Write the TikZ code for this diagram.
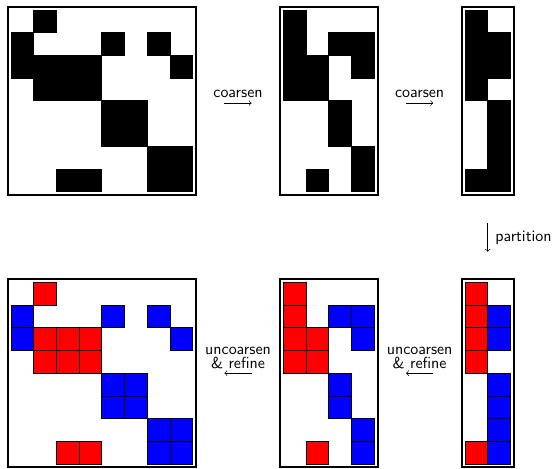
\documentclass[tikz,border=0pt]{standalone}
\begin{document}
\begin{tikzpicture}[x=0.5cm,y=-0.5cm,
  frame/.style={draw, line width=1.2pt},
  blk/.style={fill=black, draw=black, line width=0.4pt},
  redc/.style={fill=red, draw=black, line width=0.4pt},
  bluc/.style={fill=blue, draw=black, line width=0.4pt},
  lbl/.style={font=\sffamily, inner sep=0pt},
  arr/.style={->, line width=0.4pt}]
\useasboundingbox (-0.485,-0.44) rectangle (23.92,20.2);
% ---------- top row (black) ----------
\draw[frame] (-0.15,-0.15) rectangle (8.15,8.15);
\foreach \c/\r in {1/0,0/1,4/1,6/1,0/2,1/2,2/2,3/2,7/2,1/3,2/3,3/3,4/4,5/4,4/5,5/5,6/6,7/6,2/7,3/7,6/7,7/7}
  \draw[blk] (\c,\r) rectangle ++(1,1);
\begin{scope}[shift={(12,0)}]
\draw[frame] (-0.15,-0.15) rectangle (4.15,8.15);
\foreach \c/\r in {0/0,0/1,2/1,3/1,0/2,1/2,3/2,0/3,1/3,2/4,2/5,3/6,1/7,3/7}
  \draw[blk] (\c,\r) rectangle ++(1,1);
\end{scope}
\begin{scope}[shift={(20,0)}]
\draw[frame] (-0.15,-0.15) rectangle (2.15,8.15);
\foreach \c/\r in {0/0,0/1,1/1,0/2,1/2,0/3,1/4,1/5,1/6,0/7,1/7}
  \draw[blk] (\c,\r) rectangle ++(1,1);
\end{scope}
% ---------- bottom row (partitioned) ----------
\begin{scope}[shift={(0,12)}]
\draw[frame] (-0.15,-0.15) rectangle (8.15,8.15);
\foreach \c/\r in {1/0,1/2,2/2,3/2,1/3,2/3,3/3,2/7,3/7}
  \draw[redc] (\c,\r) rectangle ++(1,1);
\foreach \c/\r in {0/1,0/2,4/1,6/1,7/2,4/4,5/4,4/5,5/5,6/6,7/6,6/7,7/7}
  \draw[bluc] (\c,\r) rectangle ++(1,1);
\end{scope}
\begin{scope}[shift={(12,12)}]
\draw[frame] (-0.15,-0.15) rectangle (4.15,8.15);
\foreach \c/\r in {0/0,0/1,0/2,1/2,0/3,1/3,1/7}
  \draw[redc] (\c,\r) rectangle ++(1,1);
\foreach \c/\r in {2/1,3/1,3/2,2/4,2/5,3/6,3/7}
  \draw[bluc] (\c,\r) rectangle ++(1,1);
\end{scope}
\begin{scope}[shift={(20,12)}]
\draw[frame] (-0.15,-0.15) rectangle (2.15,8.15);
\foreach \c/\r in {0/0,0/1,0/2,0/3,0/7}
  \draw[redc] (\c,\r) rectangle ++(1,1);
\foreach \c/\r in {1/1,1/2,1/4,1/5,1/6,1/7}
  \draw[bluc] (\c,\r) rectangle ++(1,1);
\end{scope}
% ---------- labels and arrows ----------
\node[lbl, anchor=base] (c1) at (10,3.85) {coarsen};
\coordinate (c1a) at (9.4,4.1);
\coordinate (c1b) at (10.6,4.1);
\draw[arr] (c1a) -- (c1b);
\node[lbl, anchor=base] (c2) at (18,3.85) {coarsen};
\coordinate (c2a) at (17.4,4.1);
\coordinate (c2b) at (18.6,4.1);
\draw[arr] (c2a) -- (c2b);
\node[lbl, anchor=base west] (p) at (21.32,10.2) {partition};
\coordinate (pa) at (21,9.4);
\coordinate (pb) at (21,10.65);
\draw[arr] (pa) -- (pb);
\node[lbl, anchor=base] (u1) at (10,15.17) {uncoarsen};
\node[lbl, anchor=base] (r1) at (10,15.78) {\& refine};
\coordinate (u1a) at (10.6,16.0);
\coordinate (u1b) at (9.4,16.0);
\draw[arr] (u1a) -- (u1b);
\node[lbl, anchor=base] (u2) at (18,15.17) {uncoarsen};
\node[lbl, anchor=base] (r2) at (18,15.78) {\& refine};
\coordinate (u2a) at (18.6,16.0);
\coordinate (u2b) at (17.4,16.0);
\draw[arr] (u2a) -- (u2b);
\end{tikzpicture}
\end{document}
